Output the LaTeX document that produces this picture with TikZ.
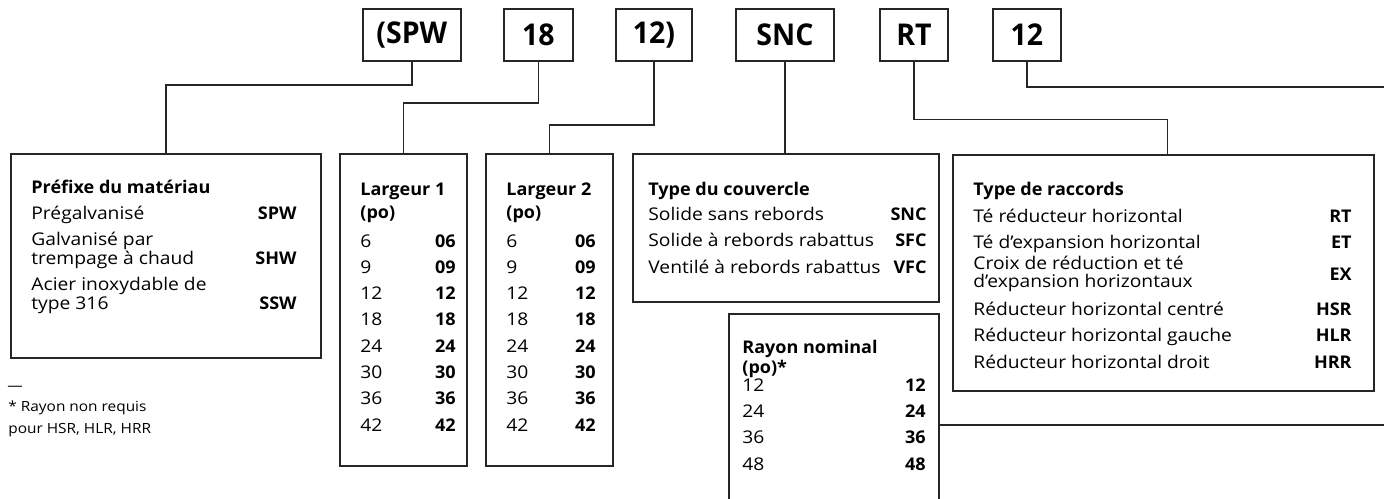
\documentclass[tikz,border=0pt]{standalone}
\usepackage{fontspec}
\setmainfont{Open Sans}[FakeStretch=1.1,BoldFeatures={FakeStretch=1.03}]
\newfontfamily\codefont{Open Sans}[FakeStretch=0.95]
\begin{document}
\begin{tikzpicture}[x=0.5pt,y=-0.5pt,
  line/.style={draw=black!85,line width=0.9pt},
  codebox/.style={line,rectangle,inner sep=0pt,anchor=north west,
    minimum height=26pt,font=\codefont\fontsize{15}{18}\selectfont\bfseries},
  panel/.style={line,rectangle,inner sep=0pt,anchor=north west},
  lab/.style={anchor=base west,inner sep=0pt,font=\fontsize{8.75}{10}\selectfont},
  val/.style={anchor=base east,inner sep=0pt,font=\fontsize{8.75}{10}\selectfont\bfseries},
  hd/.style={anchor=base west,inner sep=0pt,font=\fontsize{8.75}{10}\selectfont\bfseries},
  note/.style={anchor=base west,inner sep=0pt,font=\fontsize{7}{8.5}\selectfont},
]
\useasboundingbox (0,0) rectangle (1384,498);
\clip (0,0) rectangle (1384,498);

% code boxes along the top
\node[codebox,minimum width=49.2pt] (spw) at (361.7,8) {(SPW};
\node[codebox,minimum width=34.5pt] (w1)  at (503,8)   {18};
\node[codebox,minimum width=38pt]   (w2)  at (615,8)   {12)};
\node[codebox,minimum width=49pt]   (snc) at (735,8)   {SNC};
\node[codebox,minimum width=34pt]   (rt)  at (879,8)   {RT};
\node[codebox,minimum width=34pt]   (rad) at (992,8)   {12};

% description panels
\node[panel,minimum width=155pt,minimum height=102pt]  (prefixe) at (10,153) {};
\node[panel,minimum width=63.5pt,minimum height=156pt] (larg1)   at (339,153) {};
\node[panel,minimum width=63.5pt,minimum height=156pt] (larg2)   at (485,153) {};
\node[panel,minimum width=153pt,minimum height=74pt]   (couv)    at (632,153) {};
\node[panel,minimum width=210.5pt,minimum height=118pt] (racc)   at (952,154) {};
\node[panel,minimum width=105pt,minimum height=103.5pt] (rayon)  at (728,313) {};

% free ends running off to the right
\coordinate (radout) at (1384,87);
\coordinate (rayout) at (1384,425);

% connectors
\draw[line] (spw.south) -- ++(0,23.5) -| (prefixe.north);
\draw[line] (w1.south)  -- ++(0,41)   -| (larg1.north);
\draw[line] (w2.south)  -- ++(0,63)   -| (larg2.north);
\draw[line] (snc.south) -- (snc.south |- couv.north);
\draw[line] (rt.south)  -- ++(0,57.7) -| ([xshift=2pt]racc.north);
\draw[line] (rad.south) |- (radout);
\draw[line] (rayon.east |- rayout) -- (rayout);

% material prefix
\node[hd]  (p0)  at (31,193)  {Préfixe du matériau};
\node[lab] (p1)  at (31,219)  {Prégalvanisé};
\node[val] (p1v) at (297,219) {SPW};
\node[lab] (p2)  at (31,245)  {Galvanisé par};
\node[lab] (p3)  at (31,264)  {trempage à chaud};
\node[val] (p3v) at (297,264) {SHW};
\node[lab] (p4)  at (31,290)  {Acier inoxydable de};
\node[lab] (p5)  at (31,309)  {type 316};
\node[val] (p5v) at (297,309) {SSW};

% widths
\node[hd] (a0) at (360,195) {Largeur 1};
\node[hd] (a1) at (360,218) {(po)};
\node[hd] (b0) at (506,195) {Largeur 2};
\node[hd] (b1) at (506,218) {(po)};
\foreach \u/\v [count=\k from 0] in {6/06,9/09,12/12,18/18,24/24,30/30,36/36,42/42} {
  \node[lab] (al\k) at (360,{247+26.3*\k}) {\u};
  \node[val] (ar\k) at (456,{247+26.3*\k}) {\v};
  \node[lab] (bl\k) at (506,{247+26.3*\k}) {\u};
  \node[val] (br\k) at (596,{247+26.3*\k}) {\v};
}

% cover type
\node[hd]  (c0)  at (648,195)   {Type du couvercle};
\node[lab] (c1)  at (648,220)   {Solide sans rebords};
\node[val] (c1v) at (927,220)   {SNC};
\node[lab] (c2)  at (648,246.5) {Solide à rebords rabattus};
\node[val] (c2v) at (927,246.5) {SFC};
\node[lab] (c3)  at (648,273)   {Ventilé à rebords rabattus};
\node[val] (c3v) at (927,273)   {VFC};

% nominal radius
\node[hd] (r0) at (742,353) {Rayon nominal};
\node[hd] (r1) at (742,373) {(po)*};
\foreach \u [count=\k from 0] in {12,24,36,48} {
  \node[lab] (rl\k) at (742,{391+26.4*\k}) {\u};
  \node[val] (rr\k) at (926,{391+26.4*\k}) {\u};
}

% fitting type
\node[hd]  (f0)  at (973,195)   {Type de raccords};
\node[lab] (f1)  at (973,222.5) {Té réducteur horizontal};
\node[val] (f1v) at (1352,222.5) {RT};
\node[lab] (f2)  at (973,248)   {Té d’expansion horizontal};
\node[val] (f2v) at (1352,248)  {ET};
\node[lab] (f3)  at (973,269)   {Croix de réduction et té};
\node[lab] (f3b) at (973,287)   {d’expansion horizontaux};
\node[val] (f3v) at (1352,280)  {EX};
\node[lab] (f4)  at (973,315)   {Réducteur horizontal centré};
\node[val] (f4v) at (1352,315)  {HSR};
\node[lab] (f5)  at (973,341.5) {Réducteur horizontal gauche};
\node[val] (f5v) at (1352,341.5) {HLR};
\node[lab] (f6)  at (973,368)   {Réducteur horizontal droit};
\node[val] (f6v) at (1352,368)  {HRR};

% footnote
\node[note] (n0) at (7,390.5) {—};
\node[note] (n1) at (8,411.7) {* Rayon non requis};
\node[note] (n2) at (8,433)   {pour HSR, HLR, HRR};
\end{tikzpicture}
\end{document}
